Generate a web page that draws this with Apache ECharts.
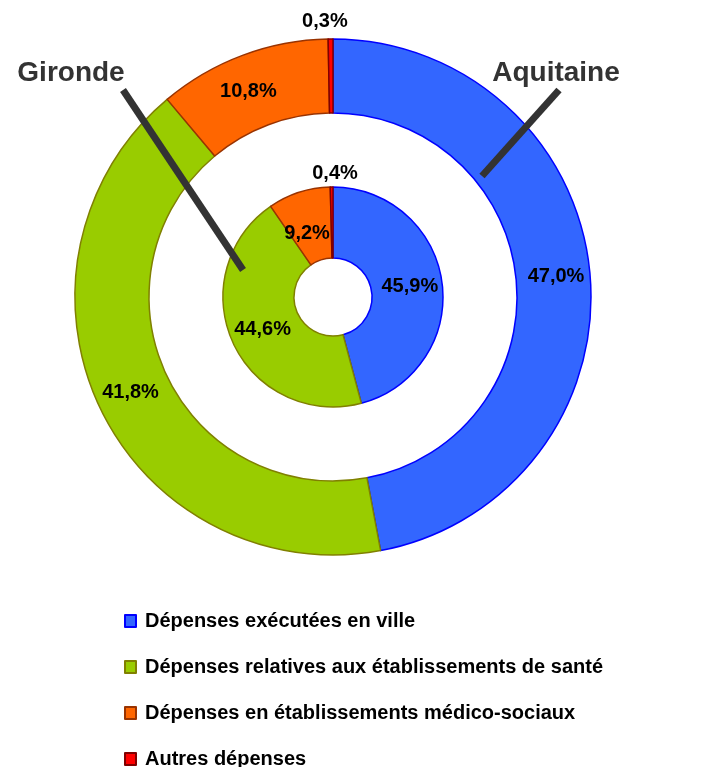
<!DOCTYPE html>
<html>
<head>
<meta charset="utf-8">
<script src="https://cdn.jsdelivr.net/npm/echarts@6/dist/echarts.min.js"></script>
<style>html,body{margin:0;padding:0;background:#fff}#c{width:720px;height:767px}</style>
</head>
<body>
<div id="c"></div>
<script>
var categories = ["Dépenses exécutées en ville", "Dépenses relatives aux établissements de santé", "Dépenses en établissements médico-sociaux", "Autres dépenses"];
var aquitaineValues = [47.0, 41.8, 10.8, 0.3];
var girondeValues = [45.9, 44.6, 9.2, 0.4];
var fillColors = ["#3366FF", "#99CC00", "#FF6600", "#FF0000"];
var borderColors = ["#0000FF", "#808000", "#993300", "#800000"];

function fmt(v) { return v.toFixed(1).replace('.', ',') + '%'; }

function buildData(values, labelOffsets) {
  return values.map(function (v, i) {
    var d = {
      name: categories[i],
      value: v,
      itemStyle: { color: fillColors[i], borderColor: borderColors[i], borderWidth: 1.5 }
    };
    if (labelOffsets[i]) d.label = { offset: labelOffsets[i] };
    return d;
  });
}

var chart = echarts.init(document.getElementById('c'), null, { renderer: 'canvas' });
var labelStyle = {
  show: true, position: 'inside', color: '#000', fontWeight: 'bold',
  fontSize: 20, fontFamily: 'Liberation Sans, Arial, sans-serif',
  formatter: function (p) { return fmt(p.value); }
};
chart.setOption({
  animation: false,
  legend: {
    orient: 'vertical', left: 124, top: 611, padding: 0, height: 200, width: 590,
    itemWidth: 11, itemHeight: 12, itemGap: 26, icon: 'rect',
    data: categories,
    textStyle: { color: '#000', fontWeight: 'bold', fontSize: 20, fontFamily: 'Liberation Sans, Arial, sans-serif', padding: [0, 0, 0, 4] }
  },
  series: [
    {
      type: 'pie', name: 'Aquitaine', center: [333, 297], radius: [184, 258],
      startAngle: 90, clockwise: true, silent: true,
      label: labelStyle, labelLine: { show: false },
      data: buildData(aquitaineValues, [null, null, [-6, 4], [-6, -52]])
    },
    {
      type: 'pie', name: 'Gironde', center: [333, 297], radius: [39, 110],
      startAngle: 90, clockwise: true, silent: true,
      label: labelStyle, labelLine: { show: false },
      data: buildData(girondeValues, [null, null, [-2, 10], [3, -46]])
    }
  ],
  graphic: [
    { type: 'line', shape: { x1: 123, y1: 90, x2: 243, y2: 270 }, style: { stroke: '#333333', lineWidth: 7 }, z: 100 },
    { type: 'line', shape: { x1: 559, y1: 90, x2: 482, y2: 176 }, style: { stroke: '#333333', lineWidth: 7 }, z: 100 },
    { type: 'text', x: 71, y: 73, style: { text: 'Gironde', fill: '#333333', font: 'bold 28px Liberation Sans, Arial, sans-serif', textAlign: 'center', textVerticalAlign: 'middle' }, z: 100 },
    { type: 'text', x: 556, y: 73, style: { text: 'Aquitaine', fill: '#333333', font: 'bold 28px Liberation Sans, Arial, sans-serif', textAlign: 'center', textVerticalAlign: 'middle' }, z: 100 }
  ]
});
</script>
</body>
</html>
